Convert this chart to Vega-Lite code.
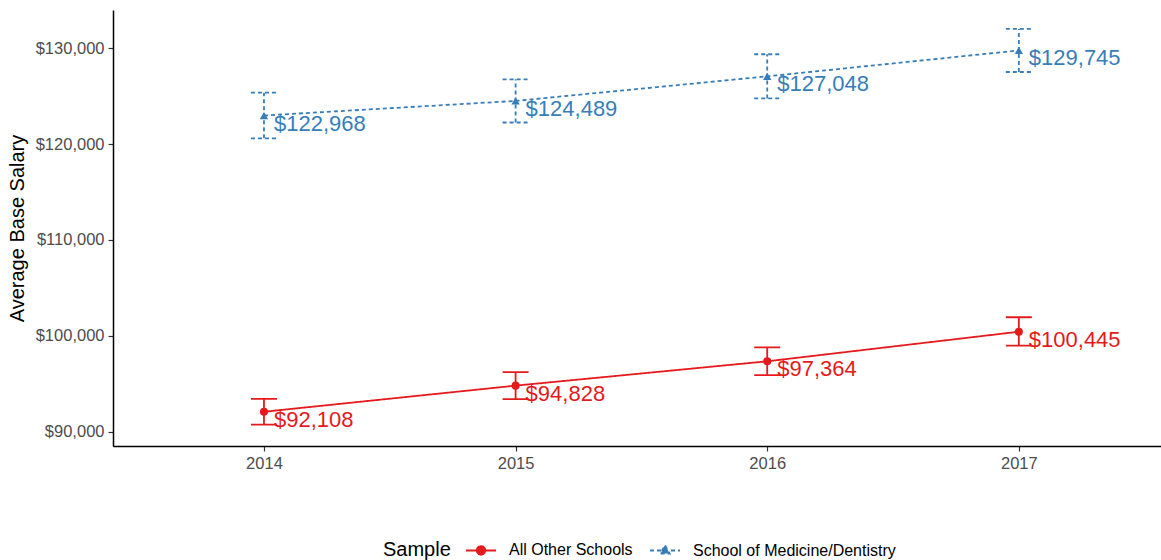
{
  "$schema": "https://vega.github.io/schema/vega-lite/v6.json",
  "width": 1048,
  "height": 436,
  "autosize": {"type": "none"},
  "padding": {"left": 113, "top": 10, "right": 0, "bottom": 114},
  "background": "white",
  "config": {
    "font": "Liberation Sans",
    "view": {"stroke": null},
    "axis": {"grid": false, "domainColor": "black", "domainWidth": 1.5, "tickColor": "#333333", "tickWidth": 1.2, "tickSize": 5, "labelColor": "#4D4D4D", "labelFontSize": 16.5, "titleFontSize": 20, "titleFontWeight": "normal", "titleColor": "black"}
  },
  "data": {"values": [
    {"year": 2014, "Sample": "All Other Schools", "salary": 92108, "lo": 90770, "hi": 93450},
    {"year": 2015, "Sample": "All Other Schools", "salary": 94828, "lo": 93430, "hi": 96230},
    {"year": 2016, "Sample": "All Other Schools", "salary": 97364, "lo": 95920, "hi": 98810},
    {"year": 2017, "Sample": "All Other Schools", "salary": 100445, "lo": 99000, "hi": 101950},
    {"year": 2014, "Sample": "School of Medicine/Dentistry", "salary": 122968, "lo": 120590, "hi": 125350},
    {"year": 2015, "Sample": "School of Medicine/Dentistry", "salary": 124489, "lo": 122240, "hi": 126740},
    {"year": 2016, "Sample": "School of Medicine/Dentistry", "salary": 127048, "lo": 124750, "hi": 129350},
    {"year": 2017, "Sample": "School of Medicine/Dentistry", "salary": 129745, "lo": 127500, "hi": 131990}
  ]},
  "encoding": {
    "x": {"field": "year", "type": "quantitative", "scale": {"domain": [2013.4, 2017.565], "nice": false, "zero": false},
          "axis": {"values": [2014, 2015, 2016, 2017], "format": "d", "title": null, "labelPadding": 4}},
    "color": {"field": "Sample", "type": "nominal",
              "scale": {"domain": ["All Other Schools", "School of Medicine/Dentistry"], "range": ["#E41A1C", "#377EB8"]},
              "legend": {"orient": "none", "legendX": 270, "legendY": 524, "direction": "horizontal", "title": "Sample", "titleOrient": "left",
                         "titleFontSize": 20, "titleFontWeight": "normal", "titleColor": "black",
                         "labelFontSize": 16, "labelColor": "black", "labelLimit": 400,
                         "symbolSize": 900, "symbolStrokeWidth": 2, "columnPadding": 13, "labelOffset": 12, "titlePadding": 14,
                         "encode": {
                           "title": {"update": {"dy": {"value": 4}}},
                           "symbols": {"update": {
                           "shape": {"signal": "datum.value === 'All Other Schools' ? 'M-1,0L1,0M0.28,0L0.2425,0.14L0.14,0.2425L0,0.28L-0.14,0.2425L-0.2425,0.14L-0.28,0L-0.2425,-0.14L-0.14,-0.2425L0,-0.28L0.14,-0.2425L0.2425,-0.14Z' : 'M-1,0L1,0M0,-0.33L0.3,0.2L-0.3,0.2Z'"},
                           "strokeDash": {"signal": "datum.value === 'All Other Schools' ? [] : [4,3]"},
                           "stroke": {"signal": "scale('color', datum.value)"},
                           "fill": {"signal": "scale('color', datum.value)"},
                           "fillOpacity": {"value": 1},
                           "strokeWidth": {"value": 2}
                         }}}}},
    "strokeDash": {"field": "Sample", "type": "nominal", "scale": {"domain": ["All Other Schools", "School of Medicine/Dentistry"], "range": [[1, 0], [4, 3]]}, "legend": null}
  },
  "layer": [
    {"mark": {"type": "line", "strokeWidth": 1.8},
     "encoding": {"y": {"field": "salary", "type": "quantitative", "scale": {"domain": [88540, 133960], "nice": false, "zero": false},
        "axis": {"values": [90000, 100000, 110000, 120000, 130000], "format": "$,.0f", "title": "Average Base Salary", "labelPadding": 4, "titlePadding": 8}}}},
    {"mark": {"type": "rule", "strokeWidth": 1.8},
     "encoding": {"y": {"field": "lo", "type": "quantitative"}, "y2": {"field": "hi"}}},
    {"mark": {"type": "rule", "strokeWidth": 1.8, "xOffset": -13, "x2Offset": 13},
     "encoding": {"y": {"field": "lo", "type": "quantitative"}, "x2": {"field": "year"}}},
    {"mark": {"type": "rule", "strokeWidth": 1.8, "xOffset": -13, "x2Offset": 13},
     "encoding": {"y": {"field": "hi", "type": "quantitative"}, "x2": {"field": "year"}}},
    {"transform": [{"filter": "datum.Sample === 'All Other Schools'"}],
     "mark": {"type": "point", "filled": true, "size": 65, "opacity": 1, "shape": "circle"},
     "encoding": {"y": {"field": "salary", "type": "quantitative"}}},
    {"transform": [{"filter": "datum.Sample === 'School of Medicine/Dentistry'"}],
     "mark": {"type": "point", "filled": true, "size": 70, "opacity": 1, "shape": "triangle-up"},
     "encoding": {"y": {"field": "salary", "type": "quantitative"}}},
    {"mark": {"type": "text", "align": "left", "baseline": "top", "dx": 10, "dy": -2, "fontSize": 22},
     "encoding": {"y": {"field": "salary", "type": "quantitative"}, "text": {"field": "salary", "type": "quantitative", "format": "$,.0f"}}}
  ]
}
